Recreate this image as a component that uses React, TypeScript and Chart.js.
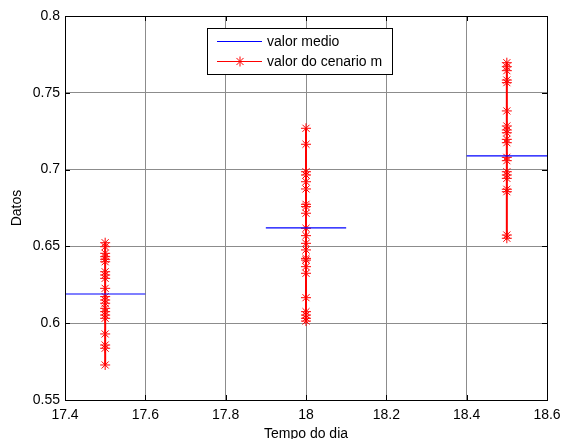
import React, { useEffect, useRef } from 'react';
import { Chart, registerables } from 'chart.js';

Chart.register(...registerables);

const xTicks = [17.4, 17.6, 17.8, 18.0, 18.2, 18.4, 18.6];
const yTicks = [0.55, 0.6, 0.65, 0.7, 0.75, 0.8];
const groupTimes = [17.5, 18.0, 18.5];
const meanValues = [0.619, 0.662, 0.709];
const meanStarts = [17.4, 17.9, 18.4];
const meanEnds = [17.6, 18.1, 18.6];
const scenario1 = [0.6524, 0.6498, 0.6455, 0.6433, 0.6416, 0.64, 0.6335, 0.6314, 0.6292, 0.6227, 0.6173, 0.6151, 0.613, 0.6097, 0.6075, 0.6053, 0.6032, 0.593, 0.5858, 0.5837, 0.5728];
const scenario2 = [0.7269, 0.7165, 0.6986, 0.6965, 0.6921, 0.6874, 0.6774, 0.6759, 0.6716, 0.6618, 0.657, 0.652, 0.6477, 0.6422, 0.6411, 0.6368, 0.6325, 0.6166, 0.6075, 0.6053, 0.6032, 0.6014];
const scenario3 = [0.7696, 0.767, 0.7644, 0.7583, 0.7566, 0.7382, 0.7284, 0.7258, 0.724, 0.7197, 0.7175, 0.708, 0.7058, 0.6986, 0.6965, 0.6943, 0.6872, 0.6856, 0.6574, 0.6553];
const scenarios = [scenario1, scenario2, scenario3];
const legendLabels = ['valor medio', 'valor do cenario m'];

const FONT = '"Liberation Sans", Arial, sans-serif';

function drawStar(ctx: CanvasRenderingContext2D, x: number, y: number, r: number) {
  ctx.beginPath();
  for (let k = 0; k < 4; k++) {
    const a = (k * Math.PI) / 4;
    ctx.moveTo(x - r * Math.cos(a), y - r * Math.sin(a));
    ctx.lineTo(x + r * Math.cos(a), y + r * Math.sin(a));
  }
  ctx.stroke();
}

const framePlugin = {
  id: 'frame',
  afterDraw(chart: any) {
    const ctx: CanvasRenderingContext2D = chart.ctx;
    const { left, right, top, bottom } = chart.chartArea;
    const xs = chart.scales.x;
    const ys = chart.scales.y;
    ctx.save();
    ctx.strokeStyle = '#000';
    ctx.lineWidth = 1;
    ctx.beginPath();
    xTicks.forEach((v) => {
      const px = Math.round(xs.getPixelForValue(v)) + 0.5;
      ctx.moveTo(px, bottom);
      ctx.lineTo(px, bottom - 5);
      ctx.moveTo(px, top);
      ctx.lineTo(px, top + 5);
    });
    yTicks.forEach((v) => {
      const py = Math.round(ys.getPixelForValue(v)) + 0.5;
      ctx.moveTo(left, py);
      ctx.lineTo(left + 5, py);
      ctx.moveTo(right, py);
      ctx.lineTo(right - 5, py);
    });
    ctx.stroke();
    ctx.strokeRect(Math.round(left) + 0.5, Math.round(top) + 0.5, Math.round(right - left), Math.round(bottom - top));

    // legend
    const lx = 207, ly = 28, lw = 185, lh = 46;
    ctx.fillStyle = '#fff';
    ctx.fillRect(lx, ly, lw, lh);
    ctx.strokeStyle = '#000';
    ctx.strokeRect(lx + 0.5, ly + 0.5, lw, lh);
    ctx.lineWidth = 1;
    ctx.strokeStyle = '#0000ff';
    ctx.beginPath();
    ctx.moveTo(lx + 10, ly + 13.5);
    ctx.lineTo(lx + 55, ly + 13.5);
    ctx.stroke();
    ctx.strokeStyle = '#ff0000';
    ctx.beginPath();
    ctx.moveTo(lx + 10, ly + 33.5);
    ctx.lineTo(lx + 55, ly + 33.5);
    ctx.stroke();
    drawStar(ctx, lx + 33, ly + 33.5, 5);
    ctx.fillStyle = '#000';
    ctx.font = `14px ${FONT}`;
    ctx.textBaseline = 'middle';
    ctx.textAlign = 'left';
    ctx.fillText(legendLabels[0], lx + 60, ly + 14);
    ctx.fillText(legendLabels[1], lx + 60, ly + 34);
    ctx.restore();
  },
};

export default function App() {
  const ref = useRef<HTMLCanvasElement>(null);
  useEffect(() => {
    if (!ref.current) return;
    Chart.defaults.font.family = FONT;
    const datasets: any[] = [];
    groupTimes.forEach((t, i) => {
      datasets.push({
        label: 'valor medio',
        data: [
          { x: meanStarts[i], y: meanValues[i] },
          { x: meanEnds[i], y: meanValues[i] },
        ],
        showLine: true,
        borderColor: '#0000ff',
        borderWidth: 1.2,
        pointRadius: 0,
      });
    });
    scenarios.forEach((vals, i) => {
      datasets.push({
        label: 'valor do cenario m',
        data: vals.map((v) => ({ x: groupTimes[i], y: v })),
        showLine: true,
        borderColor: '#ff0000',
        backgroundColor: '#ff0000',
        borderWidth: 2,
        pointStyle: 'star',
        pointRadius: 5,
        pointBorderWidth: 1,
        pointBorderColor: '#ff0000',
      });
    });
    const chart = new Chart(ref.current, {
      type: 'scatter',
      data: { datasets },
      options: {
        animation: false,
        responsive: false,
        events: [],
        layout: { padding: { left: 0, right: 22, top: 16, bottom: 0 } },
        plugins: { legend: { display: false }, tooltip: { enabled: false } },
        scales: {
          x: {
            type: 'linear',
            min: 17.4,
            max: 18.6,
            afterBuildTicks: (s: any) => {
              s.ticks = xTicks.map((v) => ({ value: v }));
            },
            afterFit: (s: any) => {
              s.height = 39;
            },
            ticks: {
              color: '#000',
              font: { size: 14 },
              padding: 7,
              maxRotation: 0,
              autoSkip: false,
              callback: (v: any) => String(Number(Number(v).toFixed(1))),
            },
            grid: { color: '#8c8c8c', lineWidth: 1, drawTicks: false },
            border: { display: false },
            title: { display: true, text: 'Tempo do dia', color: '#000', font: { size: 14, lineHeight: 1 }, padding: { top: 0, bottom: -2 } },
          },
          y: {
            type: 'linear',
            min: 0.55,
            max: 0.8,
            afterBuildTicks: (s: any) => {
              s.ticks = yTicks.map((v) => ({ value: v }));
            },
            afterFit: (s: any) => {
              s.width = 65;
            },
            ticks: {
              color: '#000',
              font: { size: 14 },
              padding: 5,
              autoSkip: false,
              callback: (v: any) => String(Number(Number(v).toFixed(2))),
            },
            grid: { color: '#8c8c8c', lineWidth: 1, drawTicks: false },
            border: { display: false },
            title: { display: true, text: 'Datos', color: '#000', font: { size: 14 }, padding: { top: 9, bottom: 0 } },
          },
        },
      },
      plugins: [framePlugin],
    });
    return () => chart.destroy();
  }, []);
  return (
    <div style={{ position: 'absolute', left: 0, top: 0, width: 569, height: 439, background: '#fff' }}>
      <canvas ref={ref} width={569} height={439} />
    </div>
  );
}
